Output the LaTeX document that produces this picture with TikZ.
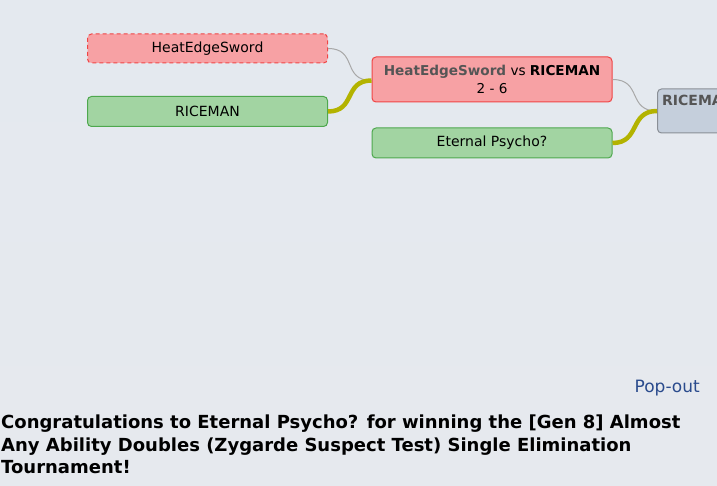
\documentclass[tikz,border=0pt]{standalone}
\usepackage{fontspec}
\setmainfont{DejaVu Sans}
\usetikzlibrary{calc}
\definecolor{bgtop}{HTML}{E4E9EF}
\definecolor{bgbot}{HTML}{E6E9EE}
\definecolor{losefill}{HTML}{F7A1A4}
\definecolor{losedraw}{HTML}{F04545}
\definecolor{winfill}{HTML}{A2D4A2}
\definecolor{windraw}{HTML}{4EA84E}
\definecolor{pendfill}{HTML}{C5CFDC}
\definecolor{penddraw}{HTML}{8A8F96}
\definecolor{olive}{HTML}{B3B300}
\definecolor{thin}{HTML}{A8A8A8}
\definecolor{popblue}{HTML}{2A4B8D}
\definecolor{namegray}{HTML}{555555}
\begin{document}
\begin{tikzpicture}[x=1pt,y=-1pt,
  box/.style={rounded corners=4pt, minimum width=240pt, inner sep=0pt, font=\fontsize{14}{16}\selectfont, line width=1pt},
  loser/.style={box, fill=losefill, draw=losedraw, dash pattern=on 4pt off 3pt, minimum height=29pt},
  winner/.style={box, fill=winfill, draw=windraw, minimum height=30pt},
  match/.style={box, fill=losefill, draw=losedraw, minimum height=45pt, align=center, font=\fontsize{13.6}{18}\selectfont},
  pending/.style={box, fill=pendfill, draw=penddraw, minimum height=44pt},
  thinlink/.style={draw=thin, line width=1pt},
  winlink/.style={draw=olive, line width=4.5pt}]
\useasboundingbox (0,0) rectangle (717,486);
\clip (0,0) rectangle (717,486);
\shade[top color=bgtop, bottom color=bgbot] (0,0) rectangle (717,486);

\node[loser] (hes) at (207.5,48.5) {HeatEdgeSword};
\node[winner] (rice1) at (207.5,111.5) {RICEMAN};
\node[match] (m1) at (492,79.5) {\textbf{\textcolor{namegray}{HeatEdgeSword}} vs \textbf{RICEMAN}\\ 2 - 6};
\node[winner] (ep) at (492,143) {Eternal Psycho?};
\node[pending, anchor=west] (fin) at (657,111) {};
\node[anchor=north west, inner sep=0pt, font=\fontsize{14}{16}\selectfont\bfseries, text=namegray] (finlabel) at ($(fin.north west)+(5,6)$) {RICEMAN};

\coordinate (m1in) at ($(m1.west)+(0,1)$);
\coordinate (finin) at ($(fin.west)+(0,0)$);
\draw[thinlink] (hes.east) .. controls +(30,0) and +(-30,0) .. (m1in);
\draw[winlink] (rice1.east) .. controls +(28,0) and +(-28,0) .. (m1in);
\draw[thinlink] (m1.east) .. controls +(30,0) and +(-30,0) .. (finin);
\draw[winlink] (ep.east) .. controls +(28,0) and +(-28,0) .. (finin);

\node[anchor=east, inner sep=0pt, text=popblue, font=\fontsize{17}{19}\selectfont] (pop) at (700,388) {Pop-out};
\node[anchor=north west, inner sep=0pt, align=left, font=\bfseries\fontsize{18}{22.5}\selectfont] (msg) at (1,415) {Congratulations to Eternal Psycho? for winning the [Gen 8] Almost\\Any Ability Doubles (Zygarde Suspect Test) Single Elimination\\Tournament!};
\end{tikzpicture}
\end{document}
